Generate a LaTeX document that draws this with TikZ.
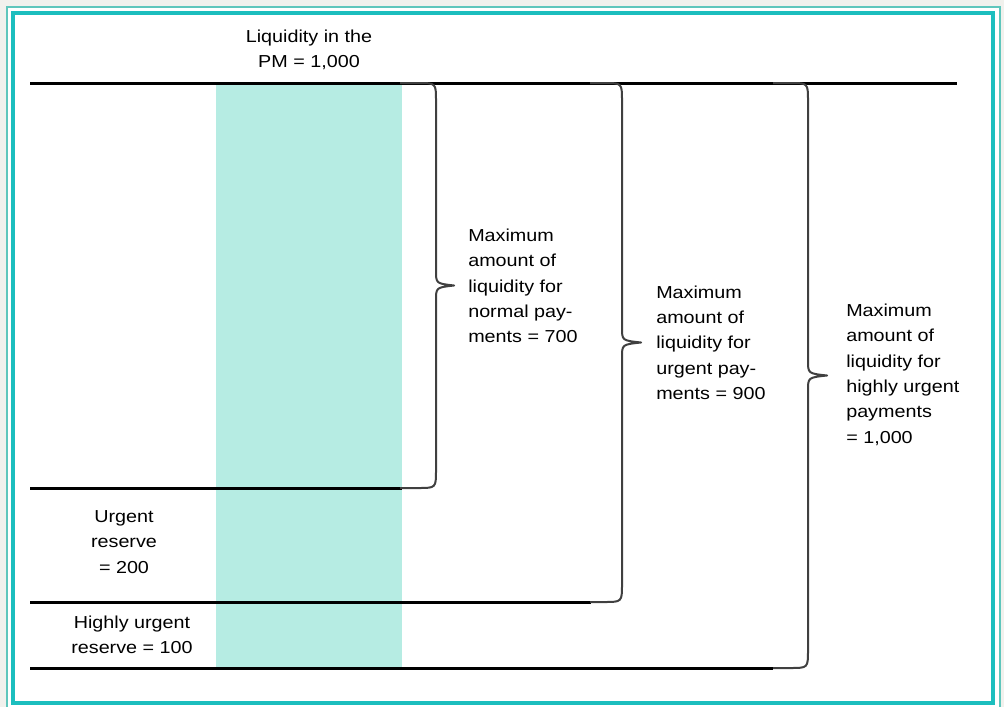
\documentclass[tikz,border=0pt]{standalone}
\usepackage{fontspec}
\setmainfont{Liberation Sans}[FakeStretch=1.14]
\definecolor{band}{RGB}{182,236,227}
\definecolor{frame}{RGB}{28,190,190}
\definecolor{frameout}{RGB}{95,198,188}
\definecolor{paper}{RGB}{241,241,237}
\definecolor{bracegray}{RGB}{64,64,64}
\newcommand{\liqbrace}[5]{%
  \draw[bracket] (#1,#4) -- ({#2-18},#4) .. controls (#2,#4) .. (#2,{#4+18})
    -- (#2,{(#4+#5)/2-15}) .. controls (#2,{(#4+#5)/2-2}) .. (#3,{(#4+#5)/2})
    .. controls (#2,{(#4+#5)/2+2}) .. (#2,{(#4+#5)/2+15})
    -- (#2,{#5-18}) .. controls (#2,#5) .. ({#2-18},#5) -- (#1,#5);}
\begin{document}
\begin{tikzpicture}[x=0.75pt, y=-0.75pt,
  level/.style={line width=2.25pt, black},
  bracket/.style={line width=1.5pt, bracegray, line join=round},
  txt/.style={font=\fontsize{13pt}{19pt}\selectfont, inner sep=0pt, align=center},
  amount/.style={txt, align=left, anchor=west}]
\useasboundingbox (0,0) rectangle (1004,707);
\fill[paper] (0,0) rectangle (1004,707);
\filldraw[fill=white, draw=frameout, line width=1.5pt] (7,7) rectangle (1000,712);
\filldraw[fill=white, draw=frame, line width=3pt] (13,13) rectangle (993,703);
\fill[band] (216,84) rectangle (402,668);
\draw[level] (30,83) -- (957,83);
\draw[level] (30,488) -- (402,488);
\draw[level] (30,602) -- (591,602);
\draw[level] (30,668) -- (773,668);
\liqbrace{400}{436}{454}{83}{488}
\liqbrace{590}{622}{641}{83}{602}
\liqbrace{773}{808}{827}{83}{668}
\node[txt] (pm) at (309,50) {Liquidity in the\\PM = 1,000};
\node[amount] (normal) at (468,286) {Maximum\\amount of\\liquidity for\\normal pay-\\ments = 700};
\node[amount] (urgent) at (656,342.5) {Maximum\\amount of\\liquidity for\\urgent pay-\\ments = 900};
\node[amount] (high) at (846,374.5) {Maximum\\amount of\\liquidity for\\highly urgent\\payments\\= 1,000};
\node[txt] (ures) at (124,542) {Urgent\\reserve\\= 200};
\node[txt] (hres) at (132,635) {Highly urgent\\reserve = 100};
\end{tikzpicture}
\end{document}
